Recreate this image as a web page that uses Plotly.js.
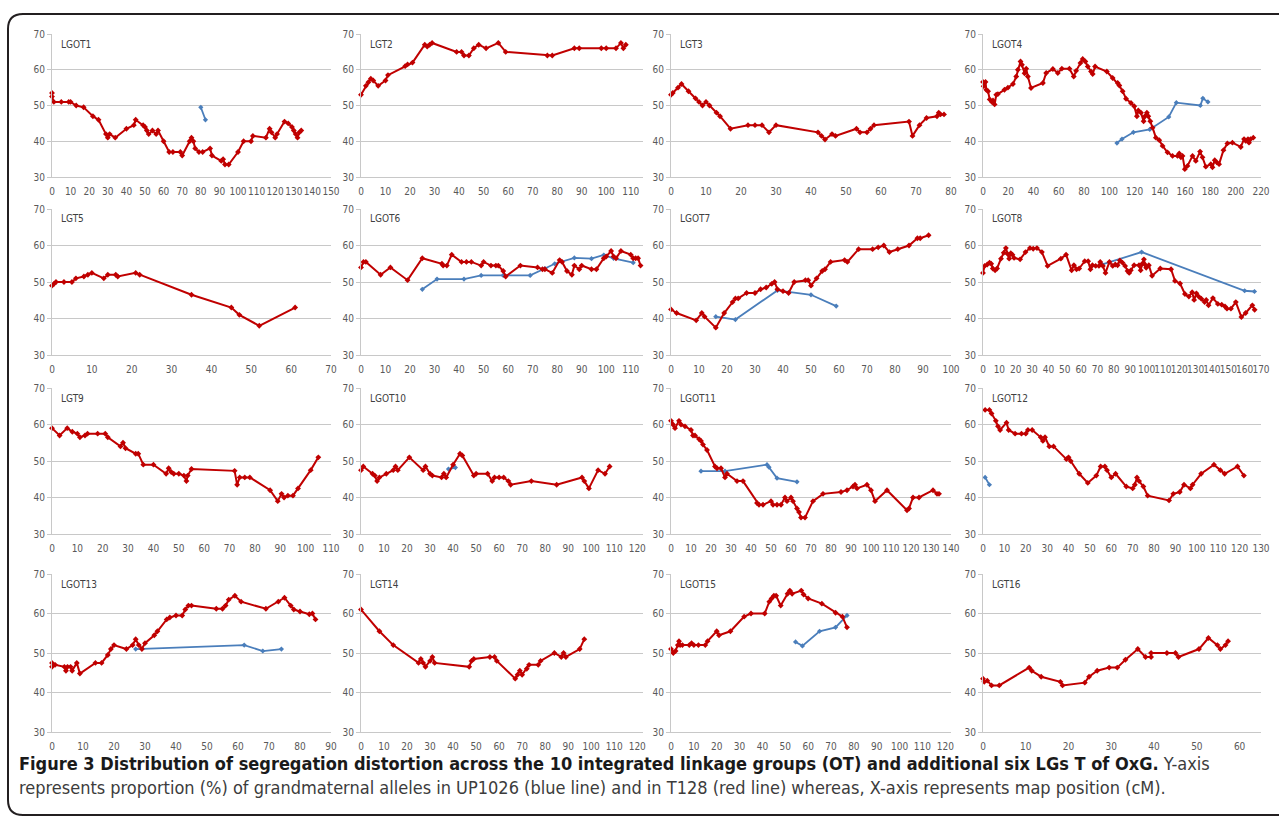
<!DOCTYPE html>
<html><head><meta charset="utf-8">
<script src="https://cdn.plot.ly/plotly-3.0.1.min.js"></script>
<style>html,body{margin:0;padding:0;background:#fff;}#chart{width:1279px;height:821px;}</style>
</head><body><div id="chart"></div>
<script>
// ---------- DATA ----------
const panelNames = ['LGOT1','LGT2','LGT3','LGOT4','LGT5','LGOT6','LGOT7','LGOT8','LGT9','LGOT10','LGOT11','LGOT12','LGOT13','LGT14','LGOT15','LGT16'];
const xAxisMax = [150,115,80,220,70,115,100,170,110,122.5,140,130,90,122.5,122.5,65];
const xTickStep = [10,10,10,20,10,10,10,10,10,10,10,10,10,10,10,10];
const yTickValues = [30,40,50,60,70];

const lgot1RedX = [0,0,1,5,9,10,13,17,22,25,29,30,31,34,40,44,45,49,50,51,52,54,56,57,60,63,65,69,70,74,75,76,77,79,81,85,86,91,92,93,95,100,103,107,108,115,117,118,120,121,125,127,129,130,131,132,133,134];
const lgot1RedY = [53.5,52.5,51,51,51,51,50,49.5,47,46,42,41,42,41,43.5,44.5,46,44.5,44,43,42,43,42,43,40,37,37,37,36,40,41,40,38,37,37,38,36,34.5,35,33.5,33.5,37,40,40,41.5,41,43.5,42.5,41,42,45.5,45,44,43,42,41,42.5,43];
const lgot1BlueX = [80,82.5];
const lgot1BlueY = [49.5,46];

const lgt2RedX = [0,2,3,4,5,7,10,11,18,19,21,26,27,28,29,39,41,42,44,46,48,51,56,59,76,78,87,89,98,100,104,106,107,108];
const lgt2RedY = [53,55.5,56.5,57.5,57,55.5,57,58.5,61,61.5,62,67,66.5,67,67.5,65,65,64,64,66,67,66,67.5,65,64,64,66,66,66,66,66,67.5,66,67];

const lgt3RedX = [0,0.5,2,3,5,7,8,9,10,11,13,14,17,22,24,26,28,30,42,43,44,46,47,53,54,56,57,58,68,69,71,73,76,76.5,77,78];
const lgt3RedY = [53,53.5,55,56,54,52,51,50,51,50,48,47,43.5,44.5,44.5,44.5,42.5,44.5,42.5,41.5,40.5,42,41.5,43.5,42.5,42.5,43.5,44.5,45.5,41.5,44.5,46.5,47,48,47.5,47.5];

const lgot4RedX = [0,0.5,2,2.6,4,5.3,7,7.9,9.2,10.5,11.8,17,19.7,23.7,26.3,27.6,29.7,30.8,32.9,34.2,35.5,38,47.4,50,55.3,59.2,62.4,68.4,71.8,73.7,77.1,78.9,81,82.9,85.5,86.8,88.7,98,102.6,106.6,107.9,110.5,113.2,117.1,119.7,121.8,122.9,125,127.1,128.2,129.7,130.8,132.4,134.2,136.8,139.5,142.1,146,150,153.9,155.3,156.6,157.9,159.7,161.8,165.8,168.4,171.8,173.7,176.3,180.3,181.6,183.4,185,186.8,190.3,193.4,197.4,204,206.6,207.9,209.7,210.5,211.8,213.9];
const lgot4RedY = [56.6,55.4,56.6,54.4,54,51.7,51,51.4,50.3,53,53.2,54.4,55,56,58.1,60,62.3,61.4,59,60.3,58.1,54.9,56.3,59.1,60.2,59.1,60.3,60.3,58.1,59.7,61.9,63,62.3,60.9,59.5,58.8,60.9,59.5,57.7,56.3,55.6,54,51.9,50.7,49.8,47,48.6,48,45.6,47,48,47,45.6,43.8,41,40.3,38.7,36.9,35.9,35.9,36.6,35.5,35.9,32.2,33.1,35.9,34.5,37.1,35.5,32.9,33.6,32.7,34.7,34.1,33.6,37.5,39.4,39.6,38.4,40.6,40.1,40.6,39.6,40.6,41];
const lgot4BlueX = [106,110,119,132,147,153,172,174,178];
const lgot4BlueY = [39.5,40.6,42.5,43.3,46.8,50.8,50,52,51];

const lgt5RedX = [0,0.5,1,3,5,6,8,9,10,13,14,16,16.5,21,22,35,45,47,52,61];
const lgt5RedY = [49,49.5,50,50,50,51,51.5,52,52.5,51,52,52,51.5,52.5,52,46.5,43,41,38,43];

const lgot6RedX = [0,1,2,8,12,19,25,33,33.5,35,37,41,43,45,49,50,53,55,56,58,59,65,72,74,75,78,81,82,84,86,87,89,90,94,96,99,100,102,103,104,106,110,111,112,113,114];
const lgot6RedY = [54,55.5,55.5,52,54,50.5,56.5,55,54.5,54.5,57.5,55.5,55.5,55.5,54.5,55.5,54.5,54.5,54.5,53,51.5,54.5,54,53.5,53.5,52.5,56,55.5,53,52,54.5,53.5,54.5,53.5,53.5,56.5,57,58.5,57,56.5,58.5,57.5,56.5,56.5,56.5,54.5];
const lgot6BlueX = [25,31,42,49,58,69,75,79,87,94,99,103,111];
const lgot6BlueY = [48,50.8,50.8,51.8,51.8,51.8,53.7,55,56.6,56.4,57.4,56.5,55.3];

const lgot7RedX = [0,2,9,11,12,16,19,22,23,24,27,30,32,34,36,37,38,40,42,44,48,49,50,52,54,55,57,62,63,67,72,74,76,78,81,85,88,89,92];
const lgot7RedY = [42.5,41.5,39.5,41.5,40.5,37.5,41.5,44.5,45.5,45.5,47,47,48,48.5,49.5,50,48,47.5,47,50,50.5,50.5,49,51,53,53.5,55.5,56,55.5,59,59,59.5,60,58.2,59,60,62,62,62.8];
const lgot7BlueX = [16,23,38,50,59];
const lgot7BlueY = [40.5,39.7,47.7,46.5,43.4];

const lgot8RedX = [0,1,2.6,4,5,6,7.4,8.6,11,12.7,14,15,16,17,18,19,22.7,26,28.7,30.7,33,36,39.5,47.6,50.8,54.2,55.6,57.2,58.8,62.2,64.3,65.7,66.9,68.9,70.9,71.7,73.3,74.9,77.3,79.3,80.9,82.3,83.7,85.3,86.9,88.4,89.4,90.4,92.4,95.4,96.4,97.4,98.4,99,99.8,101.4,103.4,108.4,115,117.4,120.5,123.5,125.9,127.9,129.1,130.5,131.9,133.5,135.5,136.5,137.9,140.6,143.6,146,148,149.2,151.6,154.6,158,160.6,164.7,166.1];
const lgot8RedY = [52.5,54.4,54.8,55.3,55,53.7,53.2,53.7,56.4,58,59.3,57.7,56.4,57.9,57.5,56.6,56.2,58.2,59.3,59.1,59.3,58.2,54.4,56.4,57.5,53.2,54.6,53.5,53.7,55.7,55.7,53.5,54.6,54.4,54.4,55.5,54.4,52.5,55.5,54.4,54.8,54.6,55.9,55.3,54.4,53,52.5,53.2,54.6,54.6,53.2,55,56.2,54.8,53.9,54.6,51.7,53.7,53.5,50.3,49.6,46.7,46,47.2,45.1,46.9,46,45.4,44.5,45.1,43.6,45.6,44,43.8,43.3,42.7,42.7,44.5,40.4,41.5,43.6,42.4];
const lgot8BlueX = [73,97,160,166];
const lgot8BlueY = [54.8,58.2,47.6,47.4];

const lgt9RedX = [0,3,6,8,10,11,13,14,18,21,22,27,28,29,33,34,36,40,45,46,47,48,50,52,53,53.5,55,72,73,74,76,78,86,89,90.5,91.5,93,95,97,102,105];
const lgt9RedY = [59,57,59,58,57.5,56.5,57,57.5,57.5,57.5,56.5,54,55,53.5,52,52,49,49,46.5,48,47,46.5,46.5,46,44.5,46,47.8,47.3,43.5,45.5,45.5,45.5,42,39,41,40,40.5,40.5,42.5,47.5,51];

const lgot10RedX = [0,1,5,6,7,8,11,14,15,16,21,27,28,30,31,35,36,37,40,43,44,49,50,55,57,58,60,62,64,65,74,85,96,97,99,103,106,108];
const lgot10RedY = [47.5,48.5,46.5,46,44.5,45.5,46.5,47.5,48.5,47.5,51,47.5,48.5,46.5,46,45.5,46.5,45.5,49,52,51.5,46,46.5,46.5,44.5,45.5,45.5,45.5,44.5,43.5,44.5,43.5,45.5,44.5,42.5,47.5,46.5,48.5];
const lgot10BlueX = [38,41];
const lgot10BlueY = [47.8,48.2];

const lgot11RedX = [0,1,2,4,5,7,10,11,12,14,15,16,18,22,23,25,27,28,33,36,43,44,46,50,51,53,55,57,58,60,61,63,64,65,67,71,76,85,88,91,92,93,98,100,102,108,118,119,121,124,131,133,134];
const lgot11RedY = [61,60,59,61,60,59.5,58.5,57,57,56,55.5,54.5,53,48.5,48,48,45.5,46.5,44.5,44.5,38.5,38,38,39,38,38,38,40,39,40,39,37,36,34.5,34.5,39,41,41.5,42,43,43.5,42.5,43.5,42,39,42,36.5,37,40,40,42,41,41];
const lgot11BlueX = [15,27,48,49,53,63];
const lgot11BlueY = [47.2,47.2,49,48.3,45.3,44.3];

const lgot12RedX = [1,3,4,6,7,8,11,12,15,18,20,21,23,27,28,29,31,33,39,40,41,45,49,53,55,57,58,60,62,67,70,71,72,73,75,77,87,89,92,94,97,98,102,108,111,113,119,122];
const lgot12RedY = [64,64,63,61,59.5,58.5,60.5,58.5,57.5,57.5,57.5,58.5,58.5,56.5,55.5,56.5,54,54,50.5,51,50,46.5,44,46,48.5,48.5,47.5,45.5,46.5,43,42.5,43.5,45.5,44.5,43,40.5,39.2,41,41.5,43.5,42.5,43.5,46.5,49,47.5,46.5,48.5,46];
const lgot12BlueX = [1,3];
const lgot12BlueY = [45.5,43.5];

const lgot13RedX = [0,0,1,4,4.5,5,6,6.5,8,9,14,16,18,19,20,24,26,27,28,29,30,33,34,37,38,40,42,43,44,45,53,55,56,57,59,61,69,73,75,77,78,80,83,84,85];
const lgot13RedY = [47.5,46.5,47,46.5,45.5,46.5,46.5,45.5,47.5,44.8,47.5,47.5,49.5,51,52,51,52,53.5,52,51,52.5,54.5,55.5,58.5,59,59.5,59.5,61,62,62,61.2,61.2,62,63.5,64.5,63,61.2,63,64,62,61,60.5,59.8,60,58.5];
const lgot13BlueX = [27,62,68,74];
const lgot13BlueY = [51,52,50.5,51];

const lgt14RedX = [0,8,14,25,26,27,28,30,31,32,47,48,49,56,58,59,67,68,69,70,72,73,77,78,84,87,88,89,95,97];
const lgt14RedY = [61,55.5,52,47.5,48.5,47.5,46.5,48,49,47.5,46.5,48,48.5,49,49,48,43.5,44.5,45.5,44.5,46,47,47,48,50,49,50,49,51,53.5];

const lgot15RedX = [0,1,2,3,3.5,4,5,8,9,10,12,15,16,20,21,26,32,35,41,43,44,45,46,48,51,52,53,57,58,60,66,72,75,77];
const lgot15RedY = [51,50,50.5,52,53,52,52,52,52.5,52,52,52,53,55.5,54.5,55.5,59.2,60,60,63,63.8,64.5,64.5,62,65,65.8,65,65.8,64.8,63.8,62.5,60.2,59.2,56.5];
const lgot15BlueX = [54.5,57.5,65,72,77];
const lgot15BlueY = [52.8,51.8,55.5,56.5,59.5];

const lgt16RedX = [0,0.3,1,2,3.8,10.8,11.4,13.6,18.1,18.6,23.8,24.8,26.7,29.5,31.4,33.3,36.2,38,39.3,39.3,43,45,45.7,50.5,52.7,54.8,55.5,56.7,57.3];
const lgt16RedY = [43.5,42.7,43,41.8,41.8,46.3,45.5,44,42.7,41.8,42.5,44,45.5,46.3,46.3,48.3,51,49,49,50,50,50,49,51,53.8,52,51,52,53];

const captionBold = 'Figure 3 Distribution of segregation distortion across the 10 integrated linkage groups (OT) and additional six LGs T of OxG.';
const captionLine1Rest = ' Y-axis';
const captionLine2 = 'represents proportion (%) of grandmaternal alleles in UP1026 (blue line) and in T128 (red line) whereas, X-axis represents map position (cM).';

const redSeriesX = [lgot1RedX,lgt2RedX,lgt3RedX,lgot4RedX,lgt5RedX,lgot6RedX,lgot7RedX,lgot8RedX,lgt9RedX,lgot10RedX,lgot11RedX,lgot12RedX,lgot13RedX,lgt14RedX,lgot15RedX,lgt16RedX];
const redSeriesY = [lgot1RedY,lgt2RedY,lgt3RedY,lgot4RedY,lgt5RedY,lgot6RedY,lgot7RedY,lgot8RedY,lgt9RedY,lgot10RedY,lgot11RedY,lgot12RedY,lgot13RedY,lgt14RedY,lgot15RedY,lgt16RedY];
const blueSeriesX = [lgot1BlueX,null,null,lgot4BlueX,null,lgot6BlueX,lgot7BlueX,lgot8BlueX,null,lgot10BlueX,lgot11BlueX,lgot12BlueX,lgot13BlueX,null,lgot15BlueX,null];
const blueSeriesY = [lgot1BlueY,null,null,lgot4BlueY,null,lgot6BlueY,lgot7BlueY,lgot8BlueY,null,lgot10BlueY,lgot11BlueY,lgot12BlueY,lgot13BlueY,null,lgot15BlueY,null];

// ---------- GEOMETRY / STYLE ----------
const W = 1279, H = 821;
const colLeft = [52, 361, 671, 983];
const colRight = [331, 643, 951, 1261];
const rowTop = [34, 209, 388, 574];
const rowBottom = [177, 355, 534, 732];
const RED = '#C00000', BLUE = '#4A7EBB';
const GRID = '#C8C8C8';
const NARROW = '"Liberation Sans Narrow","Arial Narrow","DejaVu Sans Condensed",sans-serif';
const px = v => v / W, py = v => 1 - v / H;

const traces = [];
const layout = {
  width: W, height: H, margin: {l:0, r:0, t:0, b:0},
  paper_bgcolor: '#fff', plot_bgcolor: 'rgba(0,0,0,0)',
  showlegend: false, annotations: [], shapes: []
};

panelNames.forEach((name, i) => {
  const r = Math.floor(i / 4), c = i % 4;
  const sfx = i === 0 ? '' : String(i + 1);
  const xa = 'x' + sfx, ya = 'y' + sfx;
  layout['xaxis' + sfx] = {
    domain: [px(colLeft[c]), px(colRight[c])], anchor: ya,
    range: [0, xAxisMax[i]], tick0: 0, dtick: xTickStep[i], tickangle: 0,
    showgrid: false, zeroline: false, showline: true, linecolor: GRID, linewidth: 1,
    ticks: '', ticklabelstandoff: 5,
    tickfont: {family: NARROW, size: 10, color: '#595959'}, fixedrange: true
  };
  layout['yaxis' + sfx] = {
    domain: [py(rowBottom[r]), py(rowTop[r])], anchor: xa,
    range: [30, 70], tickvals: yTickValues, ticktext: yTickValues.map(String),
    showgrid: true, gridcolor: GRID, gridwidth: 1, zeroline: false,
    showline: true, linecolor: GRID, linewidth: 1,
    ticks: 'outside', ticklen: 4, tickcolor: GRID,
    tickfont: {family: NARROW, size: 10, color: '#595959'}, fixedrange: true
  };
  if (blueSeriesX[i]) {
    traces.push({x: blueSeriesX[i], y: blueSeriesY[i], xaxis: xa, yaxis: ya,
      type: 'scatter', mode: 'lines+markers', cliponaxis: false,
      line: {color: BLUE, width: 1.8}, marker: {color: BLUE, size: 4, symbol: 'diamond'}});
  }
  traces.push({x: redSeriesX[i], y: redSeriesY[i], xaxis: xa, yaxis: ya,
    type: 'scatter', mode: 'lines+markers', cliponaxis: false,
    line: {color: RED, width: 2}, marker: {color: RED, size: 4.5, symbol: 'diamond'}});
  layout.annotations.push({
    xref: 'paper', yref: 'paper', x: px(colLeft[c] + 7), y: py(rowTop[r] + 10),
    xanchor: 'left', yanchor: 'middle', showarrow: false, text: name,
    font: {family: NARROW, size: 10, color: '#404040'}
  });
});

layout.annotations.push({
  xref: 'paper', yref: 'paper', x: px(17), y: py(763), xanchor: 'left', yanchor: 'middle',
  showarrow: false, align: 'left',
  text: '<b>' + captionBold + '</b><span style="color:#3c3c3c">' + captionLine1Rest + '</span>',
  font: {family: NARROW, size: 18, color: '#1a1a1a'}
});
layout.annotations.push({
  xref: 'paper', yref: 'paper', x: px(17), y: py(787), xanchor: 'left', yanchor: 'middle',
  showarrow: false, align: 'left', text: captionLine2,
  font: {family: NARROW, size: 18, color: '#3c3c3c'}
});

const borderPath = 'M ' + px(1300) + ',' + py(14) + ' L ' + px(23) + ',' + py(14) +
  ' Q ' + px(8) + ',' + py(14) + ' ' + px(8) + ',' + py(29) +
  ' L ' + px(8) + ',' + py(800) +
  ' Q ' + px(8) + ',' + py(815) + ' ' + px(23) + ',' + py(815) +
  ' L ' + px(1300) + ',' + py(815);
layout.shapes.push({type: 'path', xref: 'paper', yref: 'paper', path: borderPath,
  line: {color: '#231f20', width: 2}});

Plotly.newPlot('chart', traces, layout, {staticPlot: true, displayModeBar: false});
</script></body></html>
